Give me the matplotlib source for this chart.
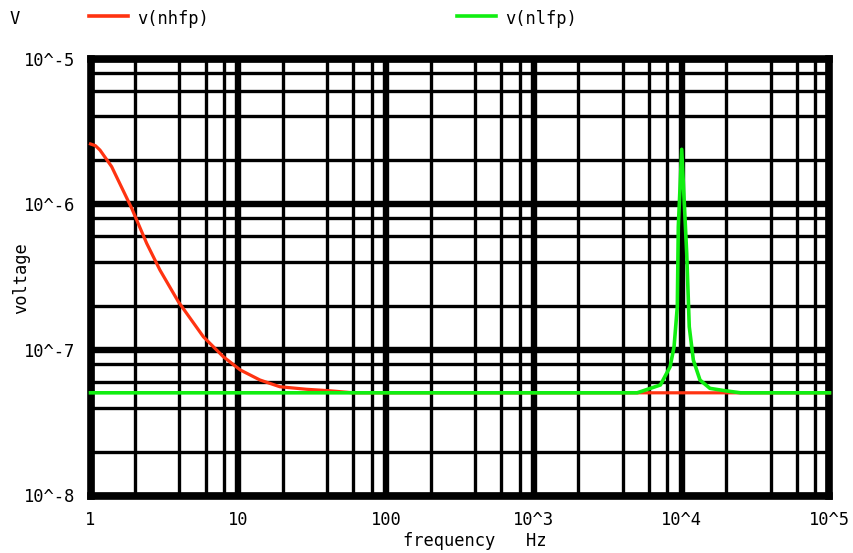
import matplotlib
matplotlib.use("Agg")
import matplotlib.pyplot as plt
from matplotlib.ticker import FixedLocator, FixedFormatter, LogLocator, NullFormatter

# ---- data ----
red_freq = [1, 1.08, 1.16, 1.39, 1.90, 2.40, 2.95, 3.93, 5.80, 7.92, 10.3, 14.0, 19.1, 29.0, 41.1, 60, 1e5]
red_volt = [2.59e-6, 2.52e-6, 2.35e-6, 1.81e-6, 9.37e-7, 5.38e-7, 3.53e-7, 2.14e-7, 1.23e-7, 8.97e-8,
            7.28e-8, 6.21e-8, 5.58e-8, 5.36e-8, 5.24e-8, 5.07e-8, 5.07e-8]

green_freq = [1, 5000, 7178, 8346, 8878, 9340, 9486, 1e4, 10810, 11250, 11990, 13300, 15530, 19110, 25000, 1e5]
green_volt = [5.07e-8, 5.07e-8, 5.74e-8, 7.65e-8, 1.05e-7, 1.98e-7, 7.0e-7, 2.38e-6, 4.6e-7,
              1.44e-7, 8.5e-8, 6.2e-8, 5.44e-8, 5.26e-8, 5.07e-8, 5.07e-8]

x_ticks = [1, 10, 100, 1e3, 1e4, 1e5]
x_labels = ["1", "10", "100", "10^3", "10^4", "10^5"]
y_ticks = [1e-8, 1e-7, 1e-6, 1e-5]
y_labels = ["10^-8", "10^-7", "10^-6", "10^-5"]

series_names = ["v(nhfp)", "v(nlfp)"]
red = "#ff3311"
green = "#11ee11"

FONT = "DejaVu Sans Mono"
FS = 12.3

fig = plt.figure(figsize=(8.54, 5.53), dpi=100)
ax = fig.add_axes([90.5 / 854, (553 - 495.5) / 553, (829.5 - 90.5) / 854, (495.5 - 58.5) / 553])
ax.set_xscale("log")
ax.set_yscale("log")
ax.set_xlim(1, 1e5)
ax.set_ylim(1e-8, 1e-5)

ax.xaxis.set_major_locator(FixedLocator(x_ticks))
ax.xaxis.set_major_formatter(FixedFormatter(x_labels))
ax.yaxis.set_major_locator(FixedLocator(y_ticks))
ax.yaxis.set_major_formatter(FixedFormatter(y_labels))
ax.xaxis.set_minor_locator(LogLocator(base=10, subs=(2, 4, 6, 8), numticks=20))
ax.yaxis.set_minor_locator(LogLocator(base=10, subs=(2, 4, 6, 8), numticks=20))
ax.xaxis.set_minor_formatter(NullFormatter())
ax.yaxis.set_minor_formatter(NullFormatter())

ax.grid(which="major", color="black", linewidth=4.6, solid_capstyle="butt")
ax.grid(which="minor", color="black", linewidth=2.4, solid_capstyle="butt")
ax.set_axisbelow(True)
ax.tick_params(which="both", length=0)
ax.tick_params(axis="x", pad=11)
ax.tick_params(axis="y", pad=11)
for lab in ax.get_xticklabels() + ax.get_yticklabels():
    lab.set_fontfamily(FONT)
    lab.set_fontsize(FS)

for s in ax.spines.values():
    s.set_linewidth(5.5)
    s.set_color("black")

ax.plot(red_freq, red_volt, color=red, linewidth=2.3, zorder=5, clip_on=False)
ax.plot(green_freq, green_volt, color=green, linewidth=2.6, zorder=6, clip_on=False)

# y axis label
fig.text(21 / 854, 1 - 278 / 553, "voltage", fontfamily=FONT, fontsize=FS,
         rotation=90, ha="center", va="center")

# x axis label
fig.text(403 / 854, 1 - 541.5 / 553, "frequency   Hz", fontfamily=FONT, fontsize=FS,
         ha="left", va="center")

# legend header
fig.text(10 / 854, 1 - 19 / 553, "V", fontfamily=FONT, fontsize=FS, ha="left", va="center")
fig.add_artist(plt.Line2D([89 / 854, 128 / 854], [1 - 15.5 / 553] * 2, color=red, linewidth=2.6,
                          transform=fig.transFigure))
fig.text(137 / 854, 1 - 19.5 / 553, series_names[0], fontfamily=FONT, fontsize=FS, ha="left", va="center")
fig.add_artist(plt.Line2D([457 / 854, 496 / 854], [1 - 15.5 / 553] * 2, color=green, linewidth=2.6,
                          transform=fig.transFigure))
fig.text(505 / 854, 1 - 19.5 / 553, series_names[1], fontfamily=FONT, fontsize=FS, ha="left", va="center")

fig.savefig("out.png", dpi=100)
